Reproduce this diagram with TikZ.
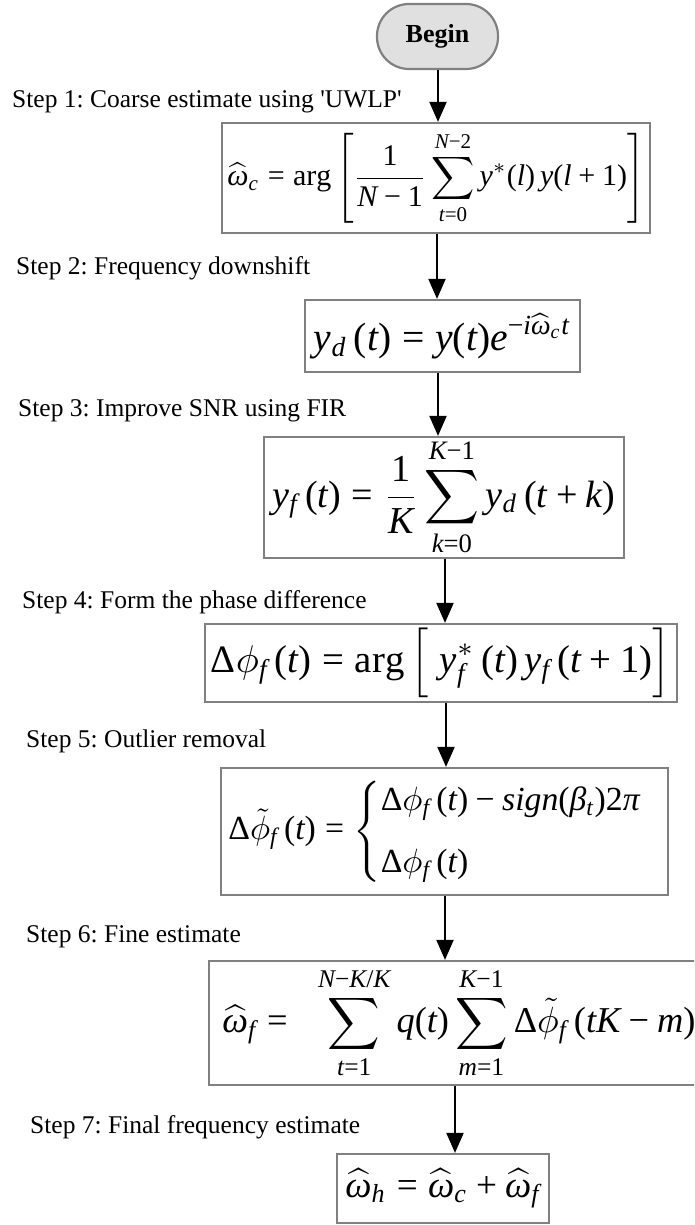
\documentclass[tikz,border=0pt]{standalone}
\usepackage{amsmath}
\usepackage[no-math]{fontspec}
\setmainfont{Liberation Serif}
\newfontfamily\tnrfam[NFSSFamily=lsr]{Liberation Serif}
\DeclareSymbolFont{operators}{TU}{lsr}{m}{n}
\DeclareSymbolFont{letters}{TU}{lsr}{m}{it}
\DeclareSymbolFont{cmlet}{OML}{cmm}{m}{it}
\DeclareSymbolFont{cmrm}{OT1}{cmr}{m}{n}
\DeclareMathSymbol{\phi}{\mathord}{cmlet}{"1E}
\DeclareMathAccent{\tilde}{\mathalpha}{cmrm}{"7E}
\Umathchardef\omega="0 "1 "03C9
\Umathchardef\beta="0 "1 "03B2
\Umathchardef\pi="0 "1 "03C0
\Umathchardef\Delta="0 "0 "0394
\Umathcode`\-="2 "0 "2212
\Umathcode`\/="0 "0 "2F
\usepackage{graphicx}
\usetikzlibrary{arrows.meta}
\definecolor{boxgray}{HTML}{808080}
\definecolor{beginfill}{HTML}{E0E0E0}
\frenchspacing
\tikzset{
  box/.style={draw=boxgray, line width=2.2pt, inner sep=0pt, fill=white},
  steplabel/.style={anchor=base west, inner sep=0pt, font=\fontsize{25.5}{28}\selectfont},
  arr/.style={line width=2pt, -{Triangle[length=20pt,width=17pt]}},
}
\newcommand{\fit}[2]{\resizebox{#1pt}{!}{$\displaystyle #2$}}
\begin{document}
\begin{tikzpicture}[x=1pt,y=-1pt]
\useasboundingbox (0,0) rectangle (694,1225);
\clip (0,0) rectangle (694,1225);
% nodes
\node[box, fill=beginfill, rounded corners=32pt, minimum width=121pt, minimum height=65pt,
  font=\fontsize{26}{30}\selectfont\bfseries] (begin) at (437.5,36.5) {Begin};
\node[box, minimum width=428pt, minimum height=110pt] (b1) at (436,178)
  {\fit{417}{\widehat{\omega}_{c}=\arg\left[\frac{1}{N-1}\sum_{t=0}^{N-2}y^{*}(l)\,y(l+1)\right]}};
\node[box, minimum width=275pt, minimum height=72pt] (b2) at (442.5,336)
  {\fit{257}{y_{d}\,(t)=y(t)e^{-i\widehat{\omega}_{c}t}}};
\node[box, minimum width=360pt, minimum height=121pt] (b3) at (444,497.5)
  {\fit{343}{y_{f}\,(t)=\frac{1}{K}\sum_{k=0}^{K-1}y_{d}\,(t+k)}};
\node[box, minimum width=472pt, minimum height=78pt] (b4) at (441,663)
  {\fit{460}{\Delta\phi_{f}\,(t)=\arg\Big[\;y_{f}^{*}\,(t)\,y_{f}\,(t+1)\Big]}};
\node[box, minimum width=447pt, minimum height=127pt] (b5) at (444.5,831.5)
  {\fit{432}{\Delta\tilde{\phi}_{f}\,(t)=\begin{cases}\Delta\phi_{f}\,(t)-sign(\beta_{t})2\pi\\[4pt]\Delta\phi_{f}\,(t)\end{cases}\hspace{-0.5em}}};
\node[box, minimum width=500pt, minimum height=124pt] (b6) at (459,1023)
  {\fit{473}{\widehat{\omega}_{f}=\;\;\sum_{t=1}^{N-K/K}q(t)\sum_{m=1}^{K-1}\Delta\tilde{\phi}_{f}\,(tK-m)}\hspace{18pt}};
\node[box, minimum width=212pt, minimum height=69pt] (b7) at (443,1188.5)
  {\fit{195}{\widehat{\omega}_{h}=\widehat{\omega}_{c}+\widehat{\omega}_{f}}};
% step labels
\node[steplabel] (s1) at (12,108) {Step 1: Coarse estimate using \textquotesingle UWLP\textquotesingle};
\node[steplabel] (s2) at (16,274) {Step 2: Frequency downshift};
\node[steplabel] (s3) at (18,416) {Step 3: Improve SNR using FIR};
\node[steplabel] (s4) at (22,608) {Step 4: Form the phase difference};
\node[steplabel] (s5) at (26,747) {Step 5: Outlier removal};
\node[steplabel] (s6) at (26,942) {Step 6: Fine estimate};
\node[steplabel] (s7) at (30,1133) {Step 7: Final frequency estimate};
% arrows
\coordinate (x1) at (438,0);
\coordinate (x2) at (437,0);
\coordinate (x3) at (438,0);
\coordinate (x4) at (445,0);
\coordinate (x5) at (446,0);
\coordinate (x6) at (445,0);
\coordinate (x7) at (455,0);
\draw[arr] (begin.south -| x1) -- (b1.north -| x1);
\draw[arr] (b1.south -| x2) -- (b2.north -| x2);
\draw[arr] (b2.south -| x3) -- (b3.north -| x3);
\draw[arr] (b3.south -| x4) -- (b4.north -| x4);
\draw[arr] (b4.south -| x5) -- (b5.north -| x5);
\draw[arr] (b5.south -| x6) -- (b6.north -| x6);
\draw[arr] (b6.south -| x7) -- (b7.north -| x7);
\end{tikzpicture}
\end{document}
